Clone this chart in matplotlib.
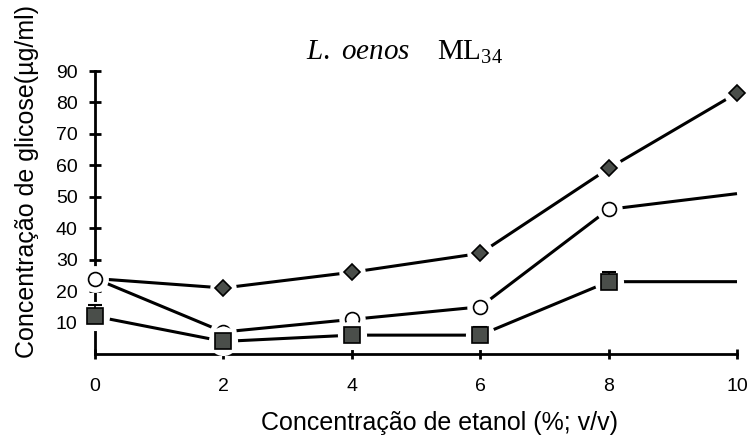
import matplotlib
matplotlib.use("Agg")
import matplotlib.pyplot as plt

# Ethanol concentration (%, v/v)
etanol = [0, 2, 4, 6, 8, 10]

# Glucose concentration (ug/ml) for the three series
glicose_losango = [24, 21, 26, 32, 59, 83]
glicose_circulo = [24, 7, 11, 15, 46, 51]
glicose_quadrado = [12, 4, 6, 6, 23, 23]

# Upper error bars
erro_losango = [0, 2, 1.5, 1.5, 1.5, 1.5]
erro_circulo = [0, 2, 2, 2, 2, 0]
erro_quadrado = [3.5, 0, 0, 2.5, 3, 0]

y_ticks = [10, 20, 30, 40, 50, 60, 70, 80, 90]
x_ticks = [0, 2, 4, 6, 8, 10]

W, H = 751, 440
plt.rcParams["font.family"] = ["Liberation Sans", "DejaVu Sans"]
plt.rcParams["mathtext.fontset"] = "custom"
plt.rcParams["mathtext.rm"] = "Liberation Serif"
plt.rcParams["mathtext.it"] = "Liberation Serif:italic"
fig = plt.figure(figsize=(W / 100, H / 100), dpi=100)

left, right, top, bottom = 95, 737, 71, 354
ax = fig.add_axes([left / W, 1 - bottom / H, (right - left) / W, (bottom - top) / H])
ax.set_xlim(0, 10)
ax.set_ylim(0, 90)

for s in ("top", "right"):
    ax.spines[s].set_visible(False)
for s in ("left", "bottom"):
    ax.spines[s].set_linewidth(2.0)
    ax.spines[s].set_zorder(1)

ax.set_xticks(x_ticks)
ax.set_yticks(y_ticks)
ax.tick_params(axis="y", direction="inout", length=9, width=2, labelsize=14, pad=8)
ax.tick_params(axis="x", direction="inout", length=7, width=2, labelsize=14, pad=14)

fill = "#4a4e4a"


def serie(y, err, marker, face, msize, halo, n_markers, cap, base):
    ax.plot(etanol, y, color="black", lw=2.2, zorder=base, clip_on=False,
            solid_capstyle="butt")
    xs = etanol[:n_markers]
    ys = y[:n_markers]
    # white disc that opens a gap in the lines and axes around each marker
    ax.plot(xs, ys, marker="o", markersize=halo, markerfacecolor="white",
            markeredgecolor="white", markeredgewidth=0, linestyle="none",
            zorder=base + 1, clip_on=False)
    ax.errorbar(xs, ys, yerr=[[0] * n_markers, err[:n_markers]], fmt="none",
                ecolor="black", elinewidth=1.2, capsize=cap, capthick=1.5,
                zorder=base + 2, clip_on=False)
    ax.plot(xs, ys, marker=marker, markersize=msize, markerfacecolor=face,
            markeredgecolor="black", markeredgewidth=1.2, linestyle="none",
            zorder=base + 3, clip_on=False)


serie(glicose_losango, erro_losango, "D", fill, 7.8, 19, 6, 0, 2)
serie(glicose_circulo, erro_circulo, "o", "white", 10, 19, 5, 0, 6)
serie(glicose_quadrado, erro_quadrado, "s", fill, 11, 21, 5, 5, 10)

fig.text(440 / W, 1 - 430 / H, "Concentração de etanol (%; v/v)",
         ha="center", va="baseline", fontsize=18)
fig.text(27 / W, 1 - 182 / H, "Concentração de glicose(µg/ml)",
         ha="center", va="center", rotation=90, fontsize=18)
fig.text(405 / W, 1 - 60 / H, r"$\mathit{L.\ oenos}\ \ \ \ \mathrm{ML}_{34}$",
         ha="center", va="baseline", fontsize=21)

fig.savefig("out.png", dpi=100)
